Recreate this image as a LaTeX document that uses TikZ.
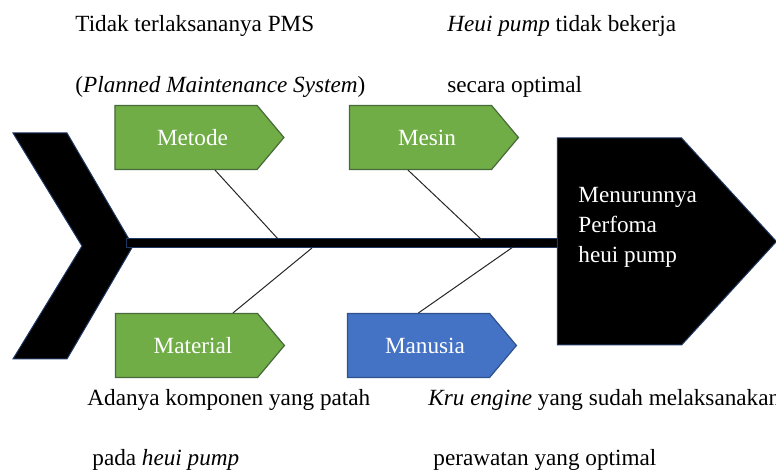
\documentclass[tikz,border=0pt]{standalone}
\usepackage{fontspec}
\setmainfont{Liberation Serif}
\usetikzlibrary{shapes.symbols}
\definecolor{G}{RGB}{112, 173, 71}
\definecolor{Gb}{RGB}{72, 105, 58}
\definecolor{B}{RGB}{68, 114, 196}
\definecolor{Bb}{RGB}{47, 82, 143}
\definecolor{N}{RGB}{31, 56, 100}

\tikzset{
	tulang/.style={shape=signal, signal to=east, signal pointer angle=100, minimum width=84.5pt, minimum height=32pt, inner sep=0pt, line width=0.6pt, text=white, font=\fontsize{11.6}{14}\selectfont, execute at begin node=\hspace*{6.5pt}},
	ket/.style={anchor=base west, inner sep=0pt, font=\fontsize{11.6}{15}\selectfont},
	garis/.style={line width=0.5pt, color=black!85}
}

\begin{document}
\begin{tikzpicture}[x=0.5pt,y=-0.5pt]
	\useasboundingbox (0,0) rectangle (776,475);
	% Kepala (kiri)
	\draw[fill=black, draw=N, line width=0.5pt] (13,133) -- (67,133) -- (133,246) -- (67,359) -- (13,359) -- (82,246) -- cycle;
	% Tulang punggung
	\draw[fill=black, draw=N, line width=0.5pt] (126,239) rectangle (560,248);
	% Akibat (kanan)
	\node[shape=signal, signal to=east, signal pointer angle=95, fill=black, draw=N, line width=0.5pt, minimum width=109.5pt, minimum height=103.5pt, inner sep=0pt] (akibat) at (619.5,241.5) {};
	\node[ket, text=white, align=left] (akibatteks) at (578,263) {Menurunnya\\Perfoma\\heui pump};

	% Titik pada tulang punggung
	\coordinate (t1) at (278,239);
	\coordinate (t2) at (312,248);
	\coordinate (t3) at (482,240);
	\coordinate (t4) at (513,247);

	% Tulang penyebab
	\node[tulang, fill=G, draw=Gb] (metode) at (186,137.5) {Metode};
	\node[tulang, fill=G, draw=Gb] (mesin) at (420.5,137.5) {Mesin};
	\node[tulang, fill=G, draw=Gb] (material) at (186.5,345.5) {Material};
	\node[tulang, fill=B, draw=Bb] (manusia) at (418.5,345.5) {Manusia};

	\draw[garis] ([xshift=14.5pt]metode.south) -- (t1);
	\draw[garis] ([xshift=23.25pt]material.north) -- (t2);
	\draw[garis] ([xshift=-6.25pt]mesin.south) -- (t3);
	\draw[garis] (manusia.north) -- (t4);

	% Keterangan
	\node[ket] (pms1) at (75,32) {Tidak terlaksananya PMS};
	\node[ket] (pms2) at (75,93) {(\textit{Planned Maintenance System})};
	\node[ket] (mesin1) at (447,32) {\textit{Heui pump} tidak bekerja};
	\node[ket] (mesin2) at (447,93) {secara optimal};
	\node[ket] (mat1) at (87,406) {Adanya komponen yang patah};
	\node[ket] (mat2) at (92,466) {pada \textit{heui pump}};
	\node[ket] (man1) at (428,406) {\textit{Kru engine} yang sudah melaksanakan};
	\node[ket] (man2) at (433,466) {perawatan yang optimal};
\end{tikzpicture}
\end{document}
